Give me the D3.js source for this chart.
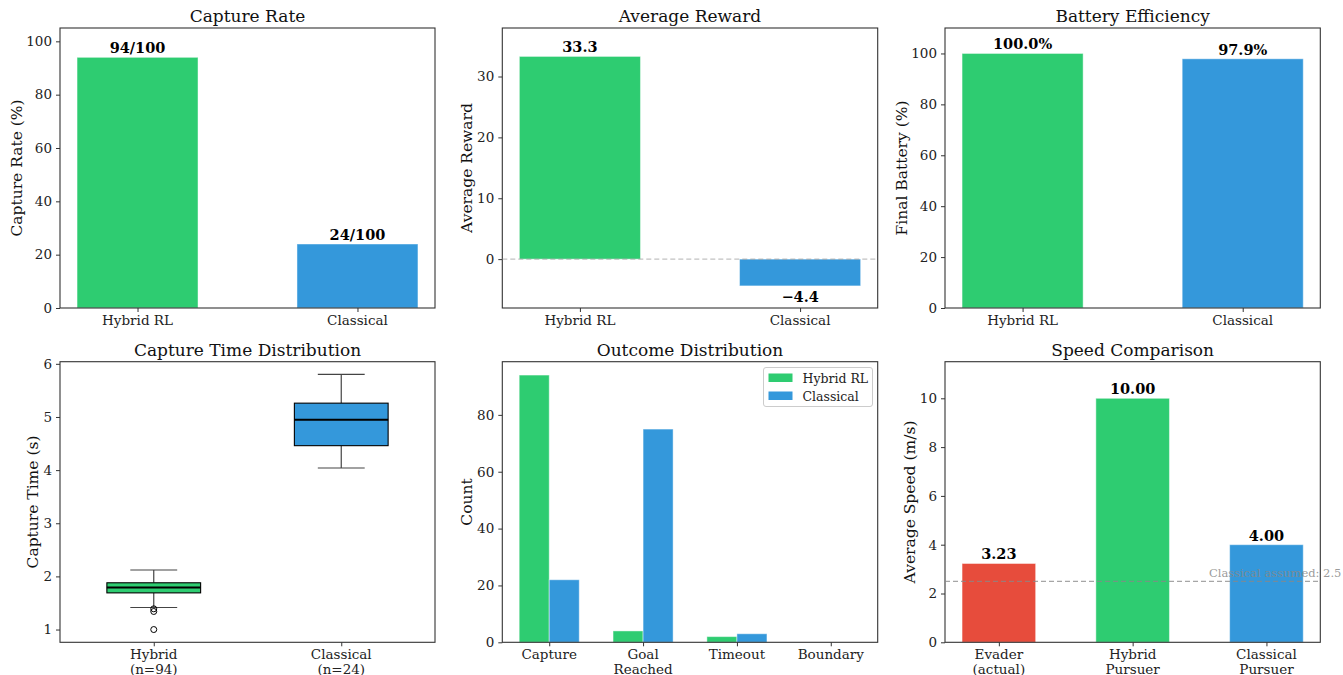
<!DOCTYPE html>
<html><head><meta charset="utf-8">
<script src="https://cdn.jsdelivr.net/npm/d3@7"></script>
<style>
body{margin:0;background:#fff;}
svg{font-family:"DejaVu Serif",serif;}
</style></head><body>
<svg id="c" width="1343" height="675"></svg>
<script>
// ---- data ----
const methods = ["Hybrid RL", "Classical"];
const captureRate = [94, 24];
const captureLabels = ["94/100", "24/100"];
const avgReward = [33.3, -4.4];
const rewardLabels = ["33.3", "\u22124.4"];
const finalBattery = [100.0, 97.9];
const batteryLabels = ["100.0%", "97.9%"];
const boxCategories = [["Hybrid", "(n=94)"], ["Classical", "(n=24)"]];
const boxHybrid = {whiskLo: 1.415, q1: 1.69, median: 1.79, q3: 1.88, whiskHi: 2.12, outliers: [1.39, 1.34, 1.00]};
const boxClassical = {whiskLo: 4.04, q1: 4.46, median: 4.95, q3: 5.26, whiskHi: 5.80, outliers: []};
const outcomeCategories = [["Capture"], ["Goal", "Reached"], ["Timeout"], ["Boundary"]];
const outcomeHybrid = [94, 4, 2, 0];
const outcomeClassical = [22, 75, 3, 0];
const speedCategories = [["Evader", "(actual)"], ["Hybrid", "Pursuer"], ["Classical", "Pursuer"]];
const speedValues = [3.23, 10.00, 4.00];
const speedLabels = ["3.23", "10.00", "4.00"];
const classicalAssumed = 2.5;
const yTicksRate = [0, 20, 40, 60, 80, 100];
const yTicksReward = [0, 10, 20, 30];
const yTicksBattery = [0, 20, 40, 60, 80, 100];
const yTicksTime = [1, 2, 3, 4, 5, 6];
const yTicksCount = [0, 20, 40, 60, 80];
const yTicksSpeed = [0, 2, 4, 6, 8, 10];

const GREEN = "#2ecc71", BLUE = "#3498db", RED = "#e74c3c";
const SPINE = "#333";
const svg = d3.select("#c");

function panel(o) {
  const g = svg.append("g");
  const x = d3.scaleLinear().domain(o.xd).range([o.x0, o.x1]);
  const y = d3.scaleLinear().domain(o.yd).range([o.y1, o.y0]);
  g.append("text").attr("x", (o.x0 + o.x1) / 2).attr("y", o.y0 - 6)
    .attr("text-anchor", "middle").attr("font-size", 17).attr("fill", "#111").text(o.title);
  g.append("text").attr("transform", `translate(${o.labX},${(o.y0 + o.y1) / 2}) rotate(-90)`)
    .attr("text-anchor", "middle").attr("dominant-baseline", "central")
    .attr("font-size", 15.5).attr("fill", "#111").text(o.ylabel);
  const content = g.append("g");
  // y axis
  const ya = g.append("g").attr("transform", `translate(${o.x0},0)`)
    .call(d3.axisLeft(y).tickValues(o.yticks).tickSize(4).tickPadding(4).tickFormat(d3.format("d")));
  ya.select(".domain").remove();
  ya.selectAll("line").attr("stroke", SPINE);
  ya.selectAll("text").attr("font-size", 13.5).attr("fill", "#222").attr("font-family", "DejaVu Serif");
  // x axis
  const xa = g.append("g").attr("transform", `translate(0,${o.y1})`)
    .call(d3.axisBottom(x).tickValues(o.xticks).tickSize(4).tickFormat(""));
  xa.select(".domain").remove();
  xa.selectAll("line").attr("stroke", SPINE);
  o.xticks.forEach((t, i) => {
    const lines = o.xlabels[i];
    const tx = g.append("text").attr("x", x(t)).attr("y", o.y1 + 17)
      .attr("text-anchor", "middle").attr("font-size", 13.5).attr("fill", "#222");
    lines.forEach((l, j) => tx.append("tspan").attr("x", x(t)).attr("dy", j === 0 ? 0 : 14.5).text(l));
  });
  g.append("rect").attr("x", o.x0).attr("y", o.y0).attr("width", o.x1 - o.x0).attr("height", o.y1 - o.y0)
    .attr("fill", "none").attr("stroke", SPINE).attr("stroke-width", 1.1);
  return {g: content, x, y, top: g};
}

function barLabel(p, xc, yv, txt, below) {
  p.top.append("text").attr("x", xc).attr("y", below ? p.y(yv) + 16 : p.y(yv) - 4)
    .attr("text-anchor", "middle").attr("font-size", 14.5).attr("font-weight", "bold")
    .attr("fill", "#000").text(txt);
}

function bars(p, xs, vals, colors, w) {
  p.g.selectAll(null).data(vals).enter().append("rect")
    .attr("x", (d, i) => p.x(xs[i] - w / 2))
    .attr("width", (d, i) => p.x(xs[i] + w / 2) - p.x(xs[i] - w / 2))
    .attr("y", d => p.y(Math.max(0, d)))
    .attr("height", d => Math.abs(p.y(d) - p.y(0)))
    .attr("fill", (d, i) => colors[i]).attr("fill-opacity", 1)
    .attr("stroke", "#fff").attr("stroke-opacity", 0.45).attr("stroke-width", 1);
}

const idx2 = [0, 1];
const mlab = methods.map(m => [m]);
const row1 = {y0: 28, y1: 308};
const row2 = {y0: 361.7, y1: 642.3};

// Panel 1: Capture Rate
let p = panel({x0: 60, x1: 435, ...row1, xd: [-0.3525, 1.3525], yd: [0, 105],
  title: "Capture Rate", ylabel: "Capture Rate (%)", labX: 17, yticks: yTicksRate, xticks: idx2, xlabels: mlab});
bars(p, idx2, captureRate, [GREEN, BLUE], 0.55);
captureRate.forEach((v, i) => barLabel(p, p.x(i), v, captureLabels[i], false));

// Panel 2: Average Reward
p = panel({x0: 502.3, x1: 877.7, ...row1, xd: [-0.3525, 1.3525], yd: [-8.03, 37.97],
  title: "Average Reward", ylabel: "Average Reward", labX: 467, yticks: yTicksReward, xticks: idx2, xlabels: mlab});
bars(p, idx2, avgReward, [GREEN, BLUE], 0.55);
p.top.append("line").attr("x1", p.x.range()[0]).attr("x2", p.x.range()[1]).attr("y1", p.y(0)).attr("y2", p.y(0))
  .attr("stroke", "#999").attr("stroke-opacity", 0.6).attr("stroke-dasharray", "5,3").attr("stroke-width", 1.1);
avgReward.forEach((v, i) => barLabel(p, p.x(i), v, rewardLabels[i], v < 0));

// Panel 3: Battery
p = panel({x0: 945, x1: 1320.3, ...row1, xd: [-0.3525, 1.3525], yd: [0, 110],
  title: "Battery Efficiency", ylabel: "Final Battery (%)", labX: 902, yticks: yTicksBattery, xticks: idx2, xlabels: mlab});
bars(p, idx2, finalBattery, [GREEN, BLUE], 0.55);
finalBattery.forEach((v, i) => barLabel(p, p.x(i), v, batteryLabels[i], false));

// Panel 4: Box plot
p = panel({x0: 60, x1: 435, ...row2, xd: [0.5, 2.5], yd: [0.76, 6.04],
  title: "Capture Time Distribution", ylabel: "Capture Time (s)", labX: 33, yticks: yTicksTime, xticks: [1, 2], xlabels: boxCategories});
[[boxHybrid, GREEN], [boxClassical, BLUE]].forEach(([b, col], i) => {
  const pos = i + 1, hw = 0.25, cw = 0.125;
  const gg = p.g;
  gg.append("line").attr("x1", p.x(pos)).attr("x2", p.x(pos)).attr("y1", p.y(b.q3)).attr("y2", p.y(b.whiskHi)).attr("stroke", "#444").attr("stroke-width", 1.2);
  gg.append("line").attr("x1", p.x(pos)).attr("x2", p.x(pos)).attr("y1", p.y(b.q1)).attr("y2", p.y(b.whiskLo)).attr("stroke", "#444").attr("stroke-width", 1.2);
  [b.whiskHi, b.whiskLo].forEach(v => gg.append("line").attr("x1", p.x(pos - cw)).attr("x2", p.x(pos + cw))
    .attr("y1", p.y(v)).attr("y2", p.y(v)).attr("stroke", "#444").attr("stroke-width", 1.2));
  gg.append("rect").attr("x", p.x(pos - hw)).attr("width", p.x(pos + hw) - p.x(pos - hw))
    .attr("y", p.y(b.q3)).attr("height", p.y(b.q1) - p.y(b.q3)).attr("fill", col).attr("stroke", "#000").attr("stroke-width", 1.1);
  gg.append("line").attr("x1", p.x(pos - hw)).attr("x2", p.x(pos + hw)).attr("y1", p.y(b.median)).attr("y2", p.y(b.median))
    .attr("stroke", "#000").attr("stroke-width", 2);
  b.outliers.forEach(v => gg.append("circle").attr("cx", p.x(pos)).attr("cy", p.y(v)).attr("r", 3)
    .attr("fill", "none").attr("stroke", "#000").attr("stroke-width", 1));
});

// Panel 5: Outcome distribution
const oIdx = [0, 1, 2, 3];
p = panel({x0: 502.3, x1: 877.7, ...row2, xd: [-0.5, 3.5], yd: [0, 98.7],
  title: "Outcome Distribution", ylabel: "Count", labX: 467, yticks: yTicksCount, xticks: oIdx, xlabels: outcomeCategories});
const ow = 0.32;
bars(p, oIdx.map(i => i - ow / 2), outcomeHybrid, oIdx.map(() => GREEN), ow);
bars(p, oIdx.map(i => i + ow / 2), outcomeClassical, oIdx.map(() => BLUE), ow);
const lg = p.top.append("g");
lg.append("rect").attr("x", 763.5).attr("y", 367.5).attr("width", 109).attr("height", 39).attr("rx", 2.5)
  .attr("fill", "#fff").attr("fill-opacity", 0.8).attr("stroke", "#ccc");
[["Hybrid RL", GREEN], ["Classical", BLUE]].forEach(([t, c], i) => {
  lg.append("rect").attr("x", 768.5).attr("y", 373.5 + i * 18).attr("width", 24).attr("height", 8.5).attr("fill", c);
  lg.append("text").attr("x", 802.5).attr("y", 382.5 + i * 18).attr("font-size", 12.5).attr("fill", "#222").text(t);
});

// Panel 6: Speed
const sIdx = [0, 1, 2];
p = panel({x0: 945, x1: 1320.3, ...row2, xd: [-0.4025, 2.4025], yd: [0, 11.5],
  title: "Speed Comparison", ylabel: "Average Speed (m/s)", labX: 910, yticks: yTicksSpeed, xticks: sIdx, xlabels: speedCategories});
bars(p, sIdx, speedValues, [RED, GREEN, BLUE], 0.55);
speedValues.forEach((v, i) => barLabel(p, p.x(i), v, speedLabels[i], false));
p.top.append("line").attr("x1", p.x.range()[0]).attr("x2", p.x.range()[1]).attr("y1", p.y(classicalAssumed)).attr("y2", p.y(classicalAssumed))
  .attr("stroke", "#888").attr("stroke-opacity", 0.75).attr("stroke-dasharray", "5,3").attr("stroke-width", 1.2);
p.top.append("text").attr("x", 1209).attr("y", p.y(classicalAssumed) - 4).attr("font-size", 11.5)
  .attr("fill", "#888").attr("fill-opacity", 0.85).text("Classical assumed: " + classicalAssumed);
</script></body></html>
